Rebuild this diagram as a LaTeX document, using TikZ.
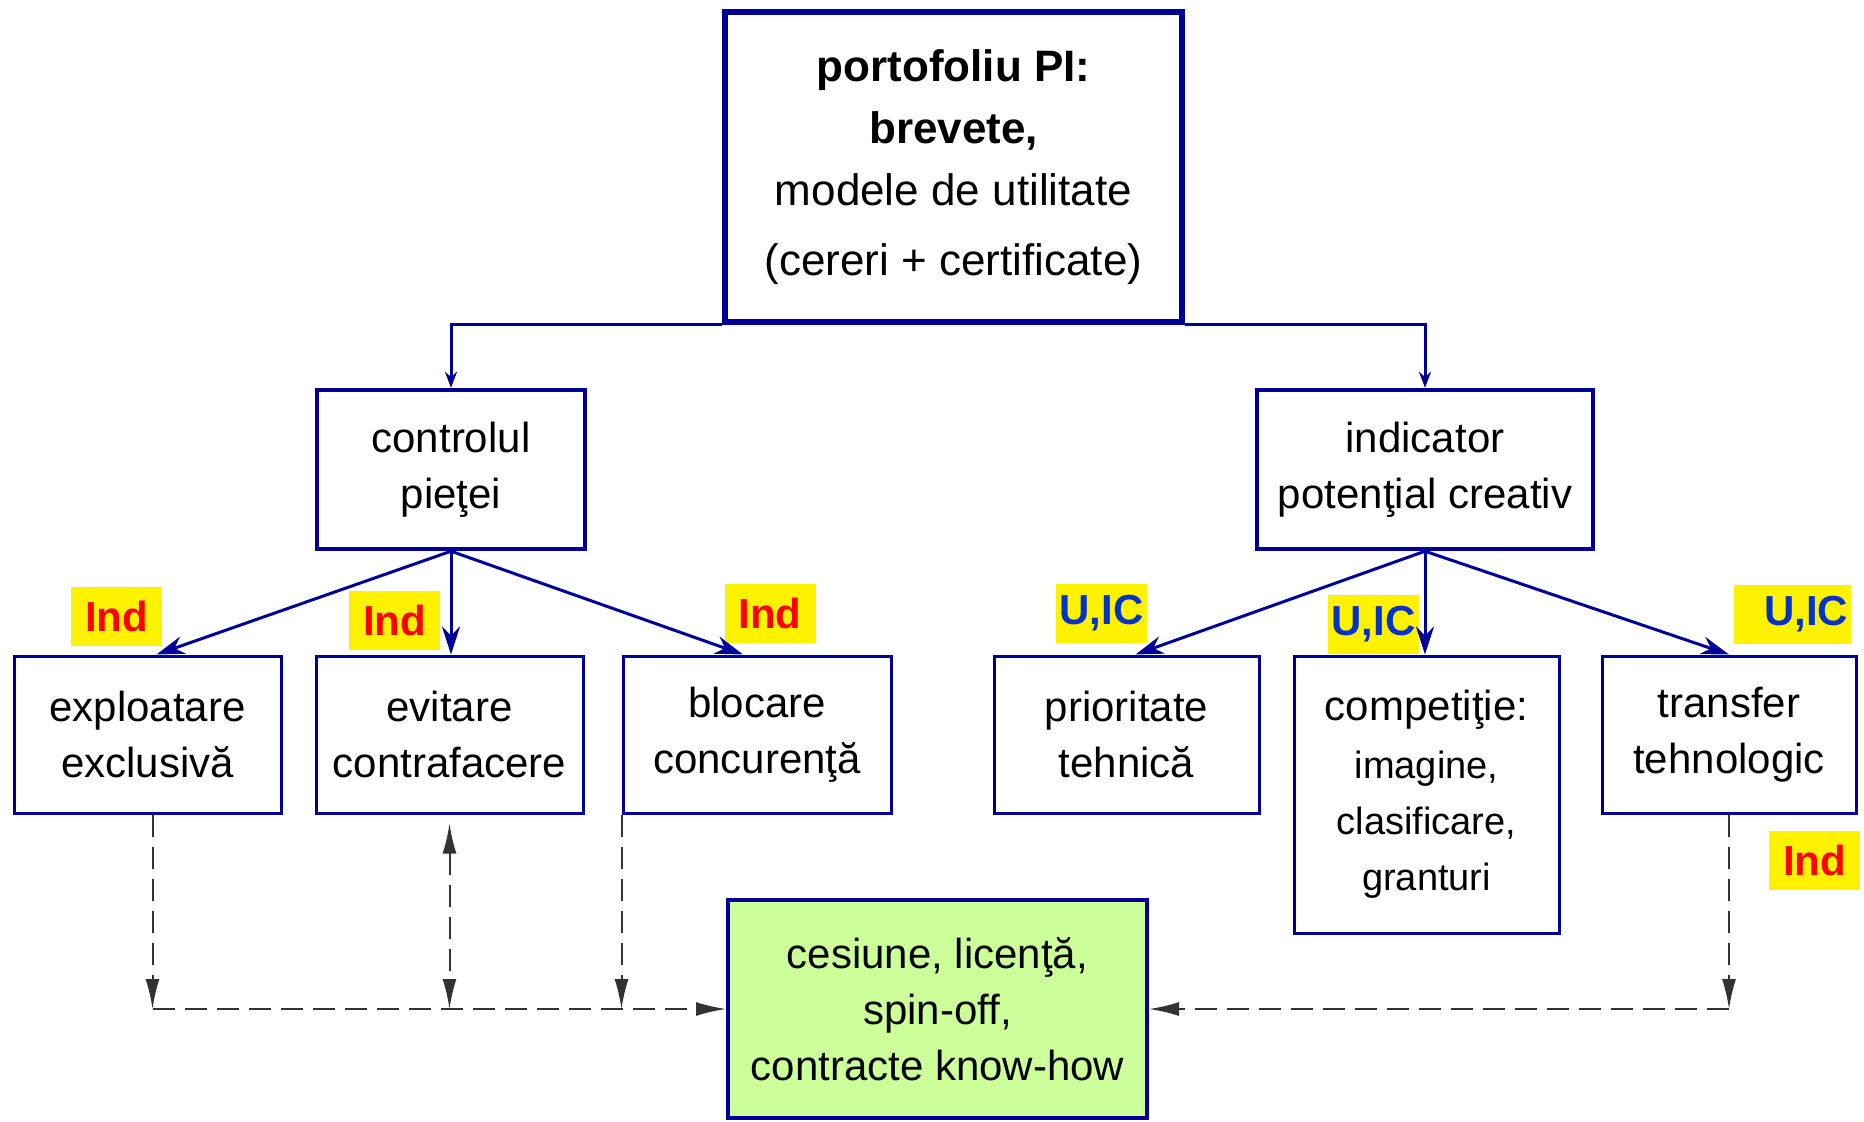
\documentclass[tikz,border=0pt]{standalone}
\usepackage{fontspec}
\setmainfont{Liberation Sans}
\usetikzlibrary{arrows.meta, positioning, calc}
\definecolor{navy}{RGB}{0,0,153}
\definecolor{paleGreen}{RGB}{204,255,153}
\definecolor{tagBlue}{RGB}{0,51,204}
\newcommand{\subtext}{\fontsize{19}{25}\selectfont}

\begin{document}
\begin{tikzpicture}[
    x=0.5pt, y=-0.5pt,
    box/.style = {rectangle, draw=navy, line width=1.5pt, fill=white, align=center, inner sep=0pt, minimum height=78.5pt, font=\fontsize{21}{28}\selectfont},
    mainbox/.style = {box, line width=2.2pt, minimum height=79.5pt},
    topbox/.style = {box, line width=2.6pt, font=\fontsize{22}{31}\selectfont},
    resultbox/.style = {box, line width=2pt, fill=paleGreen},
    tag/.style = {rectangle, fill=yellow, inner sep=0pt, minimum width=45.5pt, minimum height=29.5pt, font=\fontsize{21}{25}\selectfont\bfseries},
    ind/.style = {tag, text=red},
    uic/.style = {tag, text=tagBlue},
    toparrow/.style = {-{Stealth[length=8pt,width=6pt]}, navy, line width=1.5pt},
    arrow/.style = {-{Stealth[length=14pt,width=9pt]}, navy, line width=1.5pt},
    darrow/.style = {-{Latex[length=15pt,width=7pt]}, black!80, line width=1pt, dash pattern=on 11pt off 5pt},
    ddarrow/.style = {darrow, {Latex[length=15pt,width=7pt]}-{Latex[length=15pt,width=7pt]}}
]
\useasboundingbox (0,0) rectangle (1864,1121);

% Row 1
\node[topbox, minimum width=228.5pt, minimum height=155pt] (top) at (953.5,167)
  {\textbf{portofoliu PI:}\\ \textbf{brevete,}\\ modele de utilitate\\[4pt] (cereri + certificate)};

% Row 2
\node[mainbox, minimum width=134pt] (ctrl) at (451,469.5) {controlul\\ pieţei};
\node[mainbox, minimum width=168pt] (ind) at (1425,469.5) {indicator\\ potenţial creativ};

% Row 3
\node[box, minimum width=133.5pt] (expl) at (147.5,734.5) {exploatare\\ exclusivă};
\node[box, minimum width=133.5pt] (evit) at (449.5,734.5) {evitare\\ contrafacere};
\node[box, minimum width=134pt] (bloc) at (757,734.5) {blocare\\ concurenţă};
\node[box, minimum width=132.5pt] (prio) at (1126.5,734.5) {prioritate\\ tehnică};
\node[box, minimum width=132.5pt, minimum height=138.5pt] (comp) at (1426.5,794.5)
  {competiţie:\\[1pt] \subtext imagine,\\ \subtext clasificare,\\ \subtext granturi};
\node[box, minimum width=127pt] (trans) at (1729,734.5) {transfer\\ tehnologic};

% Row 4
\node[resultbox, minimum width=209.5pt, minimum height=109pt] (green) at (937.5,1009)
  {cesiune, licenţă,\\ spin-off,\\ contracte know-how};

% Tags
\node[ind] (ind1) at (116.5,616.5) {Ind};
\node[ind] (ind2) at (394.5,620) {Ind};
\node[ind] (ind3) at (770,613.5) {Ind};
\node[uic] (uic1) at (1101.5,613) {U,IC};
\node[uic] (uic2) at (1373.5,624.5) {U,IC};
\node[uic, minimum width=58.5pt, text width=55.5pt, align=right] (uic3) at (1792.5,614.5) {U,IC};
\node[ind] (ind4) at (1814.5,860.5) {Ind};

% Edges
\draw[toparrow] (top.south west) -| (ctrl.north);
\draw[toparrow] (top.south east) -| (ind.north);

\draw[arrow] (ctrl.south) -- ($(expl.north)+(9,0)$);
\draw[arrow] (ctrl.south) -- (ctrl.south |- evit.north);
\draw[arrow] (ctrl.south) -- ($(bloc.north)+(-14,0)$);

\draw[arrow] (ind.south) -- ($(prio.north)+(9,0)$);
\draw[arrow] (ind.south) -- (ind.south |- comp.north);
\draw[arrow] (ind.south) -- (trans.north);

\coordinate (e1) at ($(expl.south)+(5,0)$);
\coordinate (c1) at (e1 |- green.west);
\draw[darrow] (e1) -- (c1);
\draw[darrow] (c1) -- (green.west);

\coordinate (e2) at ($(evit.south)+(0,9)$);
\draw[ddarrow] (e2) -- (e2 |- green.west);

\draw[darrow] (bloc.south west) -- (bloc.south west |- green.west);

\coordinate (c4) at (trans.south |- green.west);
\draw[darrow] (trans.south) -- (c4);
\draw[darrow] (c4) -- (green.east);

\end{tikzpicture}
\end{document}
